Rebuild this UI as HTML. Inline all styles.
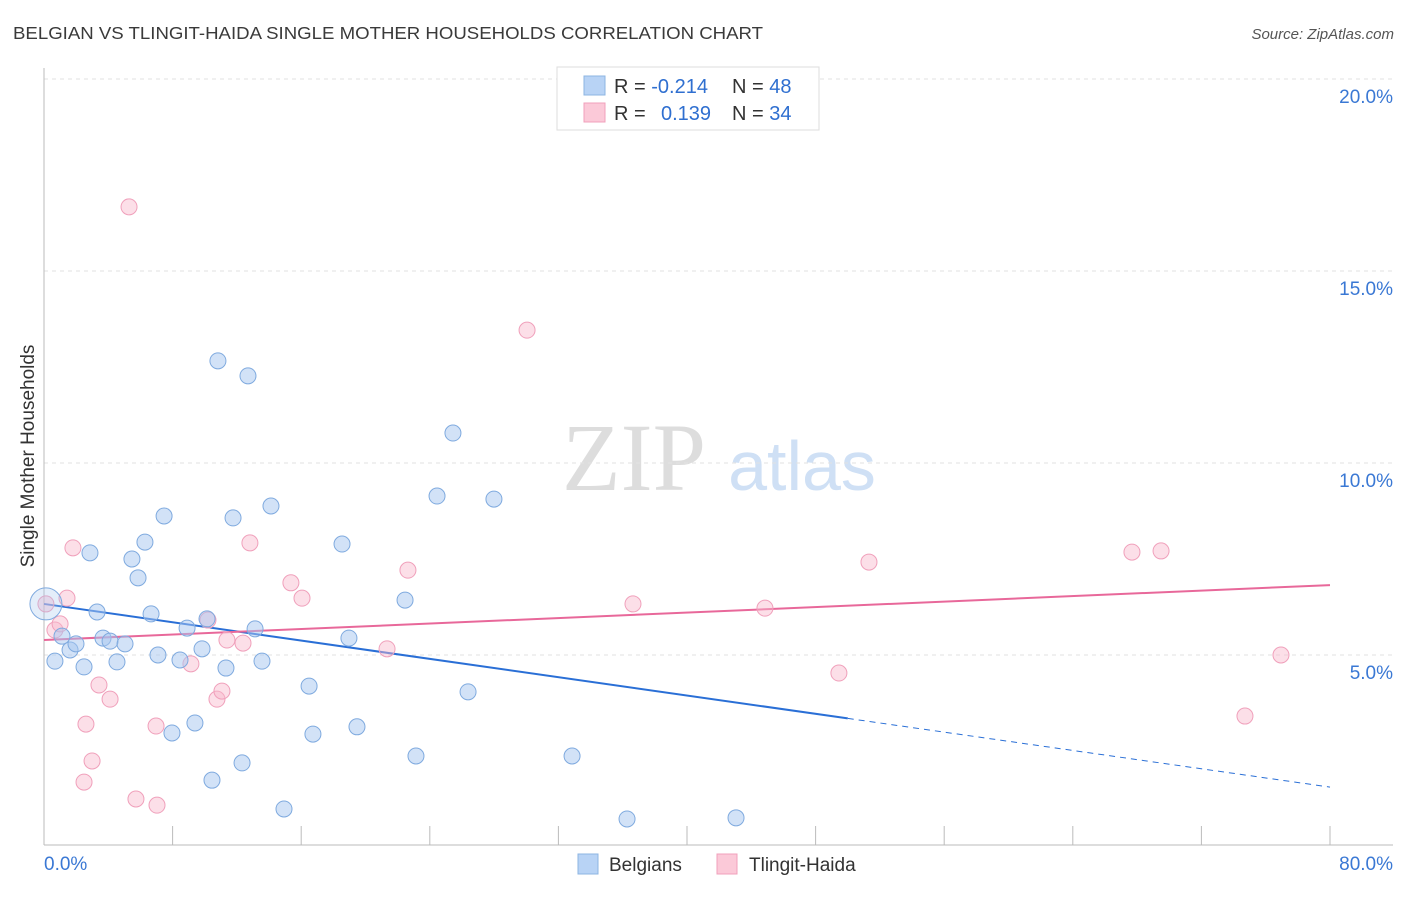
<!DOCTYPE html>
<html><head><meta charset="utf-8"><style>
body{margin:0;background:#fff;font-family:"Liberation Sans",sans-serif;}
</style></head><body>
<svg id="chart" width="1406" height="892" xmlns="http://www.w3.org/2000/svg" font-family="Liberation Sans, sans-serif">
<text x="13" y="39" font-size="17.5" fill="#3a3a3a" textLength="750" lengthAdjust="spacingAndGlyphs">BELGIAN VS TLINGIT-HAIDA SINGLE MOTHER HOUSEHOLDS CORRELATION CHART</text>
<text x="1394" y="39" font-size="15" fill="#555" font-style="italic" text-anchor="end">Source: ZipAtlas.com</text>
<text transform="translate(34,456) rotate(-90)" font-size="19" fill="#333" text-anchor="middle">Single Mother Households</text>
<g>
<text x="634" y="490" font-size="96" font-family="Liberation Serif, serif" fill="#ddd" text-anchor="middle">ZIP</text>
<text x="802" y="490" font-size="70" fill="#cfe0f5" text-anchor="middle">atlas</text>
</g>
<g id="grid"></g><g id="axes"></g><g id="lines"></g><g id="pts"></g>
<g>
<rect x="557" y="67" width="262" height="63" fill="#fff" stroke="#ddd"/>
<rect x="584" y="76" width="21" height="19" fill="#b8d3f5" stroke="#8db4e2"/>
<rect x="584" y="103" width="21" height="19" fill="#fbc9d8" stroke="#f0a0bb"/>
<text x="614" y="93" font-size="20" fill="#333">R = <tspan fill="#2f6fd0">-0.214</tspan></text>
<text x="732" y="93" font-size="20" fill="#333">N = <tspan fill="#2f6fd0">48</tspan></text>
<text x="614" y="120" font-size="20" fill="#333">R = <tspan fill="#2f6fd0" x="661">0.139</tspan></text>
<text x="732" y="120" font-size="20" fill="#333">N = <tspan fill="#2f6fd0">34</tspan></text>
</g>
<g>
<rect x="578" y="854" width="20" height="20" fill="#b8d3f5" stroke="#8db4e2"/>
<text x="609" y="871" font-size="19" fill="#333">Belgians</text>
<rect x="717" y="854" width="20" height="20" fill="#fbc9d8" stroke="#f0a0bb"/>
<text x="749" y="871" font-size="19" fill="#333">Tlingit-Haida</text>
</g>
</svg>
<script>
const blueX=[0.12,0.68,1.12,1.62,1.99,2.49,2.86,3.30,3.67,4.11,4.54,5.04,5.47,5.85,6.28,6.66,7.09,7.47,7.96,8.46,8.90,9.39,9.83,10.14,10.45,10.82,11.32,11.76,12.32,12.69,13.13,13.56,14.12,14.93,16.49,16.73,18.54,18.97,19.47,22.46,23.14,24.45,25.44,26.38,27.99,32.85,36.27,43.05];
const blueY=[6.33,4.84,5.49,5.13,5.29,4.69,7.66,6.12,5.44,5.36,4.82,5.29,7.50,7.01,7.94,6.07,5.00,8.62,2.97,4.87,5.70,3.23,5.16,5.94,1.74,12.66,4.66,8.57,2.19,12.27,5.68,4.84,8.88,0.99,4.19,2.94,7.89,5.44,3.13,6.43,2.37,9.14,10.78,4.04,9.06,2.37,0.73,0.76];
const pinkX=[0.12,0.68,1.00,1.43,1.80,2.49,2.61,2.99,3.42,4.11,5.29,5.72,6.97,7.03,9.14,10.20,10.76,11.07,11.38,12.38,12.81,15.36,16.05,21.34,22.64,30.05,36.64,44.85,49.45,51.32,67.68,69.49,74.71,76.95];
const pinkY=[6.33,5.65,5.81,6.48,7.79,1.69,3.20,2.24,4.22,3.85,16.67,1.25,3.15,1.09,4.77,5.91,3.85,4.06,5.39,5.31,7.92,6.88,6.48,5.16,7.21,13.46,6.33,6.22,4.53,7.42,7.68,7.71,3.41,5.00];
const yTicks=[5,10,15,20];
const yTickLabels=["5.0%","10.0%","15.0%","20.0%"];
const blueTrend=[6.33,1.56]; const blueSolidEnd=50;
const pinkTrend=[5.39,6.82];
const NS="http://www.w3.org/2000/svg";
const sx=v=>44+v/80*1286, sy=v=>847-v*38.4;
function mk(t,a,p){const e=document.createElementNS(NS,t);for(const k in a)e.setAttribute(k,a[k]);document.getElementById(p).appendChild(e);return e;}
yTicks.forEach((t,i)=>{
 const l=mk('line',{x1:44,x2:1393,y1:sy(t),y2:sy(t),stroke:'#e2e2e2','stroke-dasharray':'4,4'},'grid');
 
 
 const tx=mk('text',{x:1393,y:sy(t)+24,'font-size':19,fill:'#3a78d4','text-anchor':'end'},'grid');
 tx.textContent=yTickLabels[i];
 
 
});
const ya=mk('line',{x1:44,x2:44,y1:68,y2:845,stroke:'#bbb'},'axes');


const xa=mk('line',{x1:44,x2:1393,y1:845,y2:845,stroke:'#bbb'},'axes');


for(let i=0;i<=10;i++){const tk=mk('line',{x1:sx(i*8),x2:sx(i*8),y1:826,y2:845,stroke:'#bbb'},'axes');
 
 }
const x0=mk('text',{x:44,y:870,'font-size':19,fill:'#3a78d4'},'axes');x0.textContent='0.0%';


const x1=mk('text',{x:1393,y:870,'font-size':19,fill:'#3a78d4','text-anchor':'end'},'axes');x1.textContent='80.0%';


function pts(X,Y,fill,stroke,name){X.forEach((x,i)=>{const big=(i==0&&name=='belgian-point');const r=big?16:8;
 const c=mk('circle',{cx:sx(x),cy:sy(Y[i]),r:r,fill:big?'rgba(165,198,240,0.3)':fill,stroke:stroke,'stroke-width':1},'pts');
 
 });}
pts(pinkX,pinkY,'rgba(248,185,205,0.45)','#f0a0bb','tlingit-point');
pts(blueX,blueY,'rgba(165,198,240,0.5)','#7faadf','belgian-point');
const by=x=>blueTrend[0]+(blueTrend[1]-blueTrend[0])*x/80;
const b1=mk('line',{x1:sx(0),y1:sy(by(0)),x2:sx(blueSolidEnd),y2:sy(by(blueSolidEnd)),stroke:'#2a6fd6','stroke-width':2},'lines');


const b2=mk('line',{x1:sx(blueSolidEnd),y1:sy(by(blueSolidEnd)),x2:sx(80),y2:sy(by(80)),stroke:'#2a6fd6','stroke-width':1,'stroke-dasharray':'6,5'},'lines');


const p1=mk('line',{x1:sx(0),y1:sy(pinkTrend[0]),x2:sx(80),y2:sy(pinkTrend[1]),stroke:'#e8689a','stroke-width':2},'lines');


</script>
</body></html>
